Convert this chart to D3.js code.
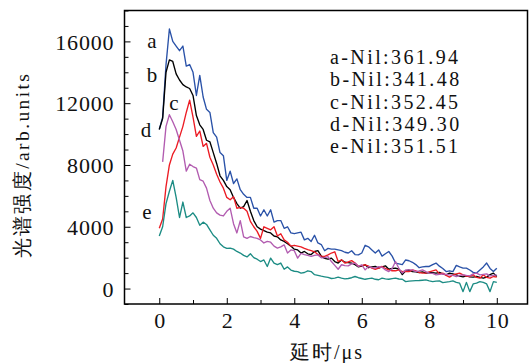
<!DOCTYPE html>
<html>
<head>
<meta charset="utf-8">
<script src="https://cdn.jsdelivr.net/npm/d3@7"></script>
<style>
  html, body { margin: 0; padding: 0; background: #fff; }
  svg { display: block; }
  text { font-family: "Liberation Serif", "DejaVu Serif", serif; fill: #111; }
</style>
</head>
<body>
<svg id="chart" width="529" height="363"></svg>
<script>
// ---- data ----
const delay = d3.range(0, 101).map(i => +(i * 0.1).toFixed(1)); // μs
const seriesNames = ["a", "b", "c", "d", "e"];
const legendLabels = ["a-Nil:361.94", "b-Nil:341.48", "c-Nil:352.45", "d-Nil:349.30", "e-Nil:351.51"];
const xTicks = [0, 2, 4, 6, 8, 10];
const yTicks = [0, 4000, 8000, 12000, 16000];

const seriesA = [10300,11100,14500,16800,16000,15700,15400,15700,14400,14500,
  14000,12500,13800,12400,11600,11400,10100,9800,8800,8600,
  7000,7600,6800,7100,6400,6100,5900,5900,5200,5200,
  4700,5100,4700,5100,4300,4400,4400,3900,4000,3600,
  3550,3600,3650,3150,3250,3050,3450,2950,2850,2450,
  2600,2550,2550,2500,2450,2350,2300,2450,2200,2180,
  2300,2800,2700,2500,2300,2500,2100,2250,2400,2100,
  1650,1600,1550,1850,1800,1700,1550,1350,1400,1430,
  1430,1550,1650,1450,1300,1100,1150,1100,1500,1400,
  1320,1320,1200,1050,1000,1200,1400,1650,1300,1100,1320];
const seriesB = [10300,11000,14000,14800,14700,13900,13500,13200,13050,12950,
  12500,11200,10600,10300,9600,9500,8800,8100,7300,7000,
  6600,6400,5900,5500,5200,5300,5700,5000,4400,4000,
  3850,3750,3650,3600,3400,3350,3150,3050,2900,2750,
  2550,2500,2300,2400,2250,2200,2400,2450,2100,1950,
  1900,1970,1750,1650,1850,1700,1680,1650,1550,1400,
  1450,1540,1350,1400,1430,1320,1400,1470,1250,1300,
  1320,1250,900,1150,1200,1100,1080,1040,1080,1000,
  1040,1020,1000,1040,950,890,1000,950,890,800,
  760,820,760,740,780,720,670,740,900,1000,780];
const seriesC = [3900,4500,6600,8000,8700,9100,9800,10500,11400,12200,
  11100,9850,10200,9200,9400,8500,8000,7400,6900,6500,
  5900,5750,5950,5200,5250,5200,5000,4350,4000,3700,
  3250,4000,3900,3800,4000,3400,3550,3150,3000,2750,
  2800,2750,2700,2600,2520,2450,2380,2200,2100,2080,
  2180,2300,2380,1750,1860,1650,1720,1810,1650,1450,
  1480,1540,1450,1320,1250,1320,1430,1300,1210,1150,
  1150,1210,1100,1120,1100,1200,1150,1040,1000,1000,
  1080,1150,1210,950,1000,850,740,880,950,1000,
  890,800,780,890,720,670,890,720,670,780,740];
const seriesD = [null,8200,10500,11250,10800,10300,9600,8900,7600,8050,
  7900,7800,7050,6950,6500,5700,5200,4900,4750,4700,
  5000,5200,4200,3600,4400,3350,3250,3370,3300,3250,
  3150,2950,3050,3000,2750,2620,2700,2830,2300,2500,
  2450,1970,2280,2200,2150,2080,2150,2180,1990,2000,
  2070,1750,1500,1250,1540,1480,1470,1600,1650,1430,
  1540,1210,1430,1350,1320,1420,1380,1210,1100,1300,
  1750,1300,1000,1200,1210,1210,1100,1150,1210,1100,
  1000,980,890,920,950,920,890,850,780,850,
  890,850,820,950,1000,890,920,950,820,850,890];
const seriesE = [3400,4000,5500,6300,7000,5900,4600,5600,4600,4700,
  4900,4600,4100,4300,4150,3800,3450,3250,2900,2700,
  2600,2620,2550,2400,2300,2150,2050,2250,2000,1900,
  1750,1850,1430,1970,1650,1550,1650,1250,1400,1200,
  1120,1100,1000,1040,1150,1100,900,850,800,760,
  720,650,680,740,680,630,650,700,780,700,
  650,600,640,670,600,570,670,630,600,640,
  670,620,600,450,480,500,510,520,540,560,
  500,450,480,500,380,420,450,500,400,350,
  -200,400,-200,300,350,450,400,300,-200,450,400];

const seriesValues = [seriesA, seriesB, seriesC, seriesD, seriesE];
const colors = ["#2a52a8", "#000000", "#ec1c24", "#b25cb0", "#1c8c84"];

// ---- layout ----
const svg = d3.select("#chart");
const L = 124.5, R = 527.5, T = 10.5, B = 304;
const x = d3.scaleLinear().domain([-1.03, 10.91]).range([L, R]);
const y = d3.scaleLinear().domain([-1000, 18000]).range([B, T]);

const fontSize = 22;

// lines
const line = d3.line()
  .defined(d => d[1] !== null)
  .x(d => x(d[0]))
  .y(d => y(d[1]));

seriesValues.forEach((vals, i) => {
  svg.append("path")
    .datum(delay.map((t, j) => [t, vals[j]]))
    .attr("fill", "none")
    .attr("stroke", colors[i])
    .attr("stroke-width", 1.35)
    .attr("stroke-linejoin", "round")
    .attr("d", line);
});

// axes (ticks inward)
const gx = svg.append("g").attr("transform", `translate(0,${B})`);
gx.call(d3.axisTop(x).tickValues(d3.range(0, 11, 1)).tickSize(0).tickFormat(""));
gx.select(".domain").remove();
gx.selectAll(".tick").append("line")
  .attr("y2", d => (d % 2 === 0 ? -6 : -4))
  .attr("stroke", "#000").attr("stroke-width", 1);
gx.selectAll(".tick").filter(d => xTicks.includes(d)).append("text")
  .attr("x", 0.4).attr("y", 24).attr("text-anchor", "middle")
  .style("font-size", fontSize + "px").style("letter-spacing", "0.8px")
  .text(d => d);

const gy = svg.append("g").attr("transform", `translate(${L},0)`);
gy.call(d3.axisRight(y).tickValues(d3.range(-1000, 18001, 1000)).tickSize(0).tickFormat(""));
gy.select(".domain").remove();
gy.selectAll(".tick").append("line")
  .attr("x2", d => (yTicks.includes(d) ? 6 : 4))
  .attr("stroke", "#000").attr("stroke-width", 1);
gy.selectAll(".tick").filter(d => yTicks.includes(d)).append("text")
  .attr("x", -10.2).attr("dy", "0.35em").attr("text-anchor", "end")
  .style("font-size", fontSize + "px").style("letter-spacing", "0.8px")
  .text(d => d);

// frame
svg.append("rect").attr("x", L).attr("y", T).attr("width", R - L).attr("height", B - T)
  .attr("fill", "none").attr("stroke", "#000").attr("stroke-width", 1.5);

// series letters
const letterPos = [[152, 48], [152, 82], [174, 110], [146, 137], [147, 219]];
seriesNames.forEach((n, i) => {
  svg.append("text").attr("x", letterPos[i][0]).attr("y", letterPos[i][1])
    .attr("text-anchor", "middle").style("font-size", "21px").text(n);
});

// legend text
legendLabels.forEach((s, i) => {
  svg.append("text").attr("x", 330).attr("y", 64 + i * 22.3)
    .style("font-size", "20px").style("letter-spacing", "2.4px").text(s);
});

// axis titles
svg.append("text").attr("x", 327).attr("y", 359).attr("text-anchor", "middle")
  .style("font-size", "20px").style("letter-spacing", "2px").text("延时/μs");
svg.append("text").attr("transform", "translate(29,165) rotate(-90)")
  .attr("text-anchor", "middle")
  .style("font-size", "19.5px").style("letter-spacing", "2.4px").text("光谱强度/arb.units");
</script>
</body>
</html>
